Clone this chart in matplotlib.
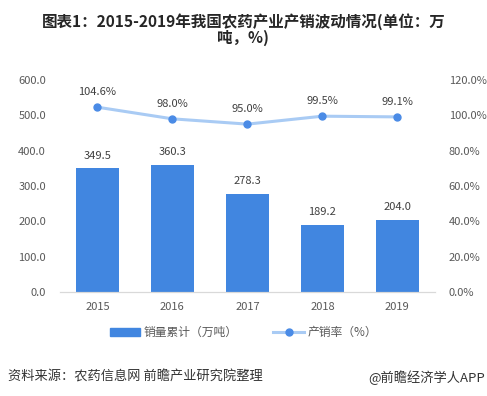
import matplotlib.pyplot as plt
from matplotlib.patches import Patch
from matplotlib.lines import Line2D

plt.rcParams['font.family'] = ['Noto Sans CJK SC', 'DejaVu Sans']

years = ['2015', '2016', '2017', '2018', '2019']
sales = [349.5, 360.3, 278.3, 189.2, 204.0]
rate = [104.6, 98.0, 95.0, 99.5, 99.1]

bar_color = '#4186E0'
line_color = '#A9CBF4'
dot_color = '#4A8BE6'
txt = '#404040'
tick_c = '#595959'

fig = plt.figure(figsize=(4.87, 3.96), dpi=100)
ax = fig.add_axes([0.123, 0.263, 0.77, 0.535])
ax2 = ax.twinx()

x = range(len(years))
ax.bar(x, sales, width=0.58, color=bar_color, zorder=2)
for i, v in enumerate(sales):
    ax.text(i, v + 22, f'{v:.1f}', ha='center', va='bottom', fontsize=8, color=txt)

ax2.plot(x, rate, color=line_color, lw=2.2, marker='o', markersize=5,
         markerfacecolor=dot_color, markeredgecolor=dot_color, zorder=3)
for i, v in enumerate(rate):
    ax2.text(i, v + 5.5, f'{v:.1f}%', ha='center', va='bottom', fontsize=8, color=txt)

ax.set_xlim(-0.5, 4.5)
ax.set_ylim(0, 600)
ax2.set_ylim(0, 120)
ax.set_yticks(range(0, 601, 100))
ax.set_yticklabels([f'{t:.1f}' for t in range(0, 601, 100)])
ax2.set_yticks(range(0, 121, 20))
ax2.set_yticklabels([f'{t:.1f}%' for t in range(0, 121, 20)])
ax.set_xticks(list(x))
ax.set_xticklabels(years)

for a in (ax, ax2):
    for s in ('top', 'left', 'right'):
        a.spines[s].set_visible(False)
    a.spines['bottom'].set_color('#D9D9D9')
    a.tick_params(length=0, labelsize=8, colors=tick_c)
ax.tick_params(axis='y', pad=10)
ax2.tick_params(axis='y', pad=10)
ax.tick_params(axis='x', pad=7)

fig.text(0.5, 0.925, '图表1：2015-2019年我国农药产业产销波动情况(单位：万\n吨，%)',
         ha='center', va='center', fontsize=11.2, fontweight='bold', color='#262626',
         linespacing=1.0)

handles = [Patch(color=bar_color),
           Line2D([0], [0], color=line_color, lw=2.2, marker='o', markersize=5,
                  markerfacecolor=dot_color, markeredgecolor=dot_color)]
fig.legend(handles, ['销量累计（万吨）', '产销率（%）'], loc='center',
           bbox_to_anchor=(0.5, 0.16), ncol=2, frameon=False, fontsize=8.5,
           labelcolor=tick_c, handlelength=2.6, columnspacing=3, handletextpad=0.3)

fig.text(0.016, 0.047, '资料来源：农药信息网 前瞻产业研究院整理', fontsize=9.5, color='#333333',
         va='center')
fig.text(0.995, 0.047, '@前瞻经济学人APP', fontsize=9.5, color='#333333',
         va='center', ha='right')

fig.savefig('out.png', dpi=100)
